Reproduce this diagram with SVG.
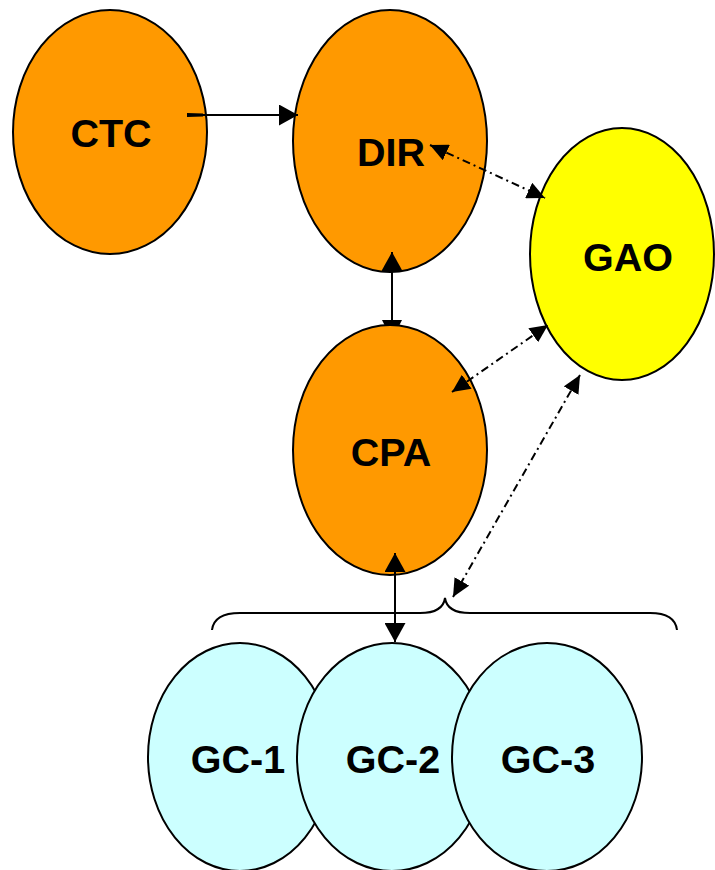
<svg xmlns="http://www.w3.org/2000/svg" width="715" height="870" viewBox="0 0 715 870">
<style>
.node ellipse{stroke:#000;stroke-width:2}
.org{fill:#FF9900}
.yel{fill:#FFFF00}
.cyan{fill:#CCFFFF}
.lbl{font-family:"Liberation Sans",Arial,sans-serif;font-weight:bold;font-size:39.5px;fill:#000;text-anchor:middle}
.solid{stroke:#000;stroke-width:2;fill:none}
.dd{stroke:#000;stroke-width:2;fill:none;stroke-dasharray:8 4 2 4}
</style>
<defs>
<marker id="ah" viewBox="0 0 19 21" refX="19" refY="10.5" markerWidth="19" markerHeight="21" markerUnits="userSpaceOnUse" orient="auto-start-reverse">
<path d="M0,0 L19,10.5 L0,21 z" fill="#000"/>
</marker>
<marker id="ah2" viewBox="0 0 18 17" refX="18" refY="8.5" markerWidth="18" markerHeight="17" markerUnits="userSpaceOnUse" orient="auto-start-reverse">
<path d="M0,0 L18,8.5 L0,17 z" fill="#000"/>
</marker>
</defs>
<g id="CTC" class="node"><ellipse class="org" cx="110" cy="132" rx="97" ry="122"/><text class="lbl" x="111" y="147">CTC</text></g>
<g id="DIR" class="node"><ellipse class="org" cx="390" cy="141" rx="97" ry="131"/><text class="lbl" x="391" y="166">DIR</text></g>
<g id="GAO" class="node"><ellipse class="yel" cx="622" cy="254" rx="92" ry="126"/><text class="lbl" x="628" y="271">GAO</text></g>
<g id="CPA" class="node"><ellipse class="org" cx="390" cy="450" rx="97" ry="125"/><text class="lbl" x="391" y="466">CPA</text></g>
<g id="GC-1" class="node"><ellipse class="cyan" cx="240" cy="757" rx="92" ry="114"/><text class="lbl" x="238" y="773">GC-1</text></g>
<g id="GC-2" class="node"><ellipse class="cyan" cx="392" cy="757" rx="95" ry="114"/><text class="lbl" x="393" y="773">GC-2</text></g>
<g id="GC-3" class="node"><ellipse class="cyan" cx="547" cy="757" rx="95" ry="114"/><text class="lbl" x="548" y="773">GC-3</text></g>
<g id="connectors">
<line class="solid" x1="187" y1="115" x2="298" y2="115" marker-end="url(#ah)"/>
<polygon points="187,113 203,113.5 203,116.5 187,117" fill="#000"/>
<line class="solid" x1="392" y1="252" x2="392" y2="321" marker-start="url(#ah)"/>
<polygon points="382,320 402,320 399,326 385,326" fill="#000"/>
<line class="dd" x1="430" y1="145" x2="545" y2="198" marker-start="url(#ah2)" marker-end="url(#ah2)"/>
<line class="dd" x1="452" y1="392" x2="548" y2="325" marker-start="url(#ah2)" marker-end="url(#ah2)"/>
<line class="dd" x1="580" y1="375" x2="453" y2="597" marker-start="url(#ah2)" marker-end="url(#ah2)"/>
<line class="solid" x1="395" y1="553" x2="395" y2="642" marker-start="url(#ah)" marker-end="url(#ah)"/>
<path class="solid" d="M212,630 Q214,613 240,613 L420,613 Q443,613 445,598 Q447,613 470,613 L650,613 Q675,613 677,630"/>
</g>
</svg>
